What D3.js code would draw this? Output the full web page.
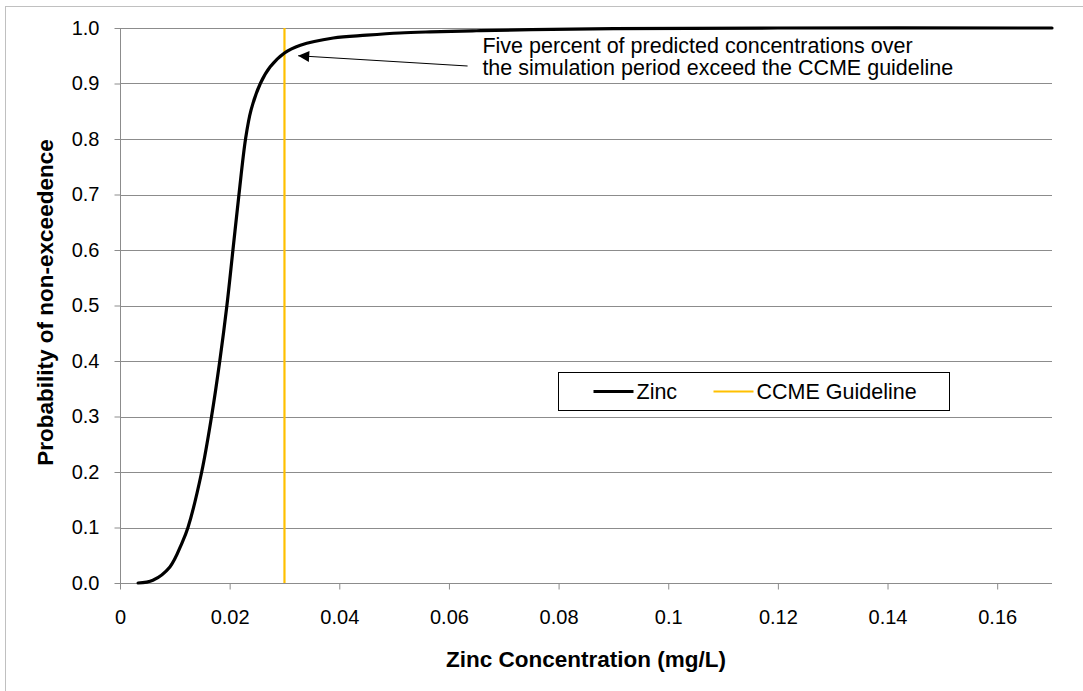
<!DOCTYPE html>
<html>
  <head>
    <meta charset="utf-8">
    <script src="https://cdn.jsdelivr.net/npm/d3@7"></script>
    <style>
        body { margin: 0; background: #fff; }
        text { font-family: "Liberation Sans", Arial, sans-serif; fill: #000; }
        .grid line { stroke: #8c8c8c; stroke-width: 1; }
    </style>
  </head>

  <body>
    <div id="my_dataviz"></div>
  </body>

  <script>

    // Zinc concentration (mg/L) vs probability of non-exceedence
    let conc = [0.0033, 0.006, 0.0091, 0.0113, 0.0124, 0.0149, 0.0167, 0.0182, 0.0195,
                0.0206, 0.0217, 0.0229, 0.0239, 0.0256, 0.0274, 0.030, 0.0329, 0.0389,
                0.045, 0.051, 0.0566, 0.065, 0.075, 0.09, 0.12, 0.17];
    let prob = [0.0, 0.005, 0.029, 0.072, 0.1, 0.2, 0.3, 0.4, 0.5,
                0.6, 0.7, 0.8, 0.852, 0.9, 0.93, 0.955, 0.969, 0.982,
                0.987, 0.991, 0.993, 0.995, 0.997, 0.999, 1.0, 1.0];

    let guideline = 0.03;
    let xTicks = [0, 0.02, 0.04, 0.06, 0.08, 0.1, 0.12, 0.14, 0.16];
    let yTicks = [0, 0.1, 0.2, 0.3, 0.4, 0.5, 0.6, 0.7, 0.8, 0.9, 1.0];
    let noteLines = ["Five percent of predicted concentrations over",
                     "the simulation period exceed the CCME guideline"];
    let legendNames = ["Zinc", "CCME Guideline"];

    let W = 1083, H = 691;
    let margin = {top: 28, right: 31, bottom: 108, left: 120},
        width = W - margin.left - margin.right,
        height = H - margin.top - margin.bottom;

    let root = d3.select("#my_dataviz")
                 .append("svg")
                   .attr("width", W)
                   .attr("height", H);

    // outer chart border
    root.append("rect")
        .attr("x", 5.5).attr("y", 6.5)
        .attr("width", W + 10).attr("height", H + 10)
        .attr("fill", "none")
        .attr("stroke", "#c0c0c0");

    let defs = root.append("defs");
    defs.append("marker")
        .attr("id", "arrowhead")
        .attr("viewBox", "0 0 10 10")
        .attr("refX", 10).attr("refY", 5)
        .attr("markerWidth", 16).attr("markerHeight", 11)
        .attr("markerUnits", "userSpaceOnUse")
        .attr("orient", "auto")
      .append("path")
        .attr("d", "M0,0 L10,5 L0,10 Z")
        .attr("fill", "#000");

    let svg = root.append("g")
                  .attr("transform", "translate(" + margin.left + "," + margin.top + ")");

    let x = d3.scaleLinear().domain([0, 0.17]).range([0, width]);
    let y = d3.scaleLinear().domain([0, 1]).range([height, 0]);

    // horizontal gridlines
    svg.append("g")
       .attr("class", "grid")
       .selectAll("line")
       .data(yTicks)
       .enter()
       .append("line")
         .attr("x1", 0).attr("x2", width)
         .attr("y1", d => Math.round(y(d)) + 0.5)
         .attr("y2", d => Math.round(y(d)) + 0.5);

    // axes
    let xAxis = svg.append("g")
       .attr("transform", "translate(0," + (Math.round(height) + 0.5) + ")")
       .call(d3.axisBottom(x).tickValues(xTicks).tickSize(6).tickPadding(20)
               .tickFormat(d => d === 0 ? "0" : d3.format("")(+d.toFixed(2))));
    let yAxis = svg.append("g")
       .attr("transform", "translate(0.5,0)")
       .call(d3.axisLeft(y).tickValues(yTicks).tickSize(6).tickPadding(15)
               .tickFormat(d3.format(".1f")));

    [xAxis, yAxis].forEach(a => {
        a.select(".domain").attr("stroke", "#8c8c8c");
        a.selectAll(".tick line").attr("stroke", "#8c8c8c");
        a.selectAll(".tick text")
         .style("font-size", "20px")
         .style("font-family", "Liberation Sans, Arial, sans-serif");
    });
    xAxis.select(".domain").attr("d", "M0,0H" + width);
    yAxis.select(".domain").attr("d", "M0," + height + "V0");

    // guideline
    svg.append("line")
       .attr("x1", x(guideline)).attr("x2", x(guideline))
       .attr("y1", 0).attr("y2", height)
       .attr("stroke", "#ffc000")
       .attr("stroke-width", 2.2);

    // zinc curve
    let pts = conc.map((c, i) => ({c: c, p: prob[i]}));
    svg.append("path")
       .datum(pts)
       .attr("fill", "none")
       .attr("stroke", "#000")
       .attr("stroke-width", 3.2)
       .attr("stroke-linecap", "round")
       .attr("d", d3.line()
         .curve(d3.curveCatmullRom.alpha(0.5))
         .x(d => x(d.c))
         .y(d => y(d.p)));

    // annotation
    svg.append("line")
       .attr("x1", x(0.0634)).attr("y1", y(0.9315))
       .attr("x2", x(0.0325)).attr("y2", y(0.95))
       .attr("stroke", "#000")
       .attr("stroke-width", 1.2)
       .attr("marker-end", "url(#arrowhead)");

    svg.append("g")
       .selectAll("text")
       .data(noteLines)
       .enter()
       .append("text")
         .attr("x", x(0.0661))
         .attr("y", (d, i) => y(0.955) + i * 22)
         .style("font-size", "21.5px")
         .text(d => d);

    // legend
    let lg = root.append("g").attr("transform", "translate(558.5,372.5)");
    lg.append("rect")
      .attr("width", 391).attr("height", 38)
      .attr("fill", "#fff").attr("stroke", "#000").attr("stroke-width", 1);
    let legendColors = ["#000", "#ffc000"];
    let legendX = [35, 155];
    let legendW = [3, 2];
    legendNames.forEach((n, i) => {
        lg.append("line")
          .attr("x1", legendX[i]).attr("x2", legendX[i] + 40)
          .attr("y1", 19).attr("y2", 19)
          .attr("stroke", legendColors[i]).attr("stroke-width", legendW[i]);
        lg.append("text")
          .attr("x", legendX[i] + 43).attr("y", 26.5)
          .style("font-size", "21.5px")
          .text(n);
    });

    // axis titles
    svg.append("text")
       .attr("x", width / 2)
       .attr("y", height + 84)
       .attr("text-anchor", "middle")
       .style("font-size", "22.5px")
       .style("font-weight", "bold")
       .text("Zinc Concentration (mg/L)");

    svg.append("text")
       .attr("transform", "translate(-67," + (height / 2 - 3) + ") rotate(-90)")
       .attr("text-anchor", "middle")
       .style("font-size", "22.5px")
       .style("font-weight", "bold")
       .text("Probability of non-exceedence");

  </script>
</html>
